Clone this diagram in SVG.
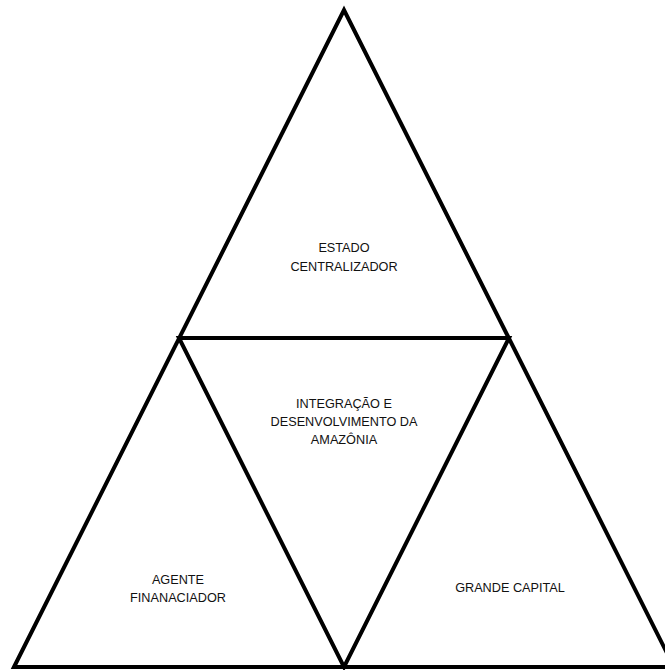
<svg xmlns="http://www.w3.org/2000/svg" width="665" height="670" viewBox="0 0 665 670">
<style>
.edge{fill:none;stroke:#000;stroke-width:4;stroke-linejoin:miter;stroke-miterlimit:10}
.lbl{font-family:"Liberation Sans",Arial,sans-serif;font-size:12.7px;fill:#111;text-anchor:middle}
</style>
<rect width="665" height="670" fill="#fff"/>
<g id="connectors">
<path class="edge" d="M14,667 L344,10 L674,667 Z"/>
<path class="edge" d="M179,338 L509,338 L344,667 Z"/>
</g>
<g id="estado-centralizador">
<text class="lbl" x="344" y="252">ESTADO</text>
<text class="lbl" x="344" y="271">CENTRALIZADOR</text>
</g>
<g id="integracao">
<text class="lbl" x="344" y="408">INTEGRAÇÃO E</text>
<text class="lbl" x="344" y="426">DESENVOLVIMENTO DA</text>
<text class="lbl" x="344" y="444">AMAZÔNIA</text>
</g>
<g id="agente-financiador">
<text class="lbl" x="178" y="584">AGENTE</text>
<text class="lbl" x="178" y="602">FINANACIADOR</text>
</g>
<g id="grande-capital">
<text class="lbl" x="510" y="592">GRANDE CAPITAL</text>
</g>
</svg>
